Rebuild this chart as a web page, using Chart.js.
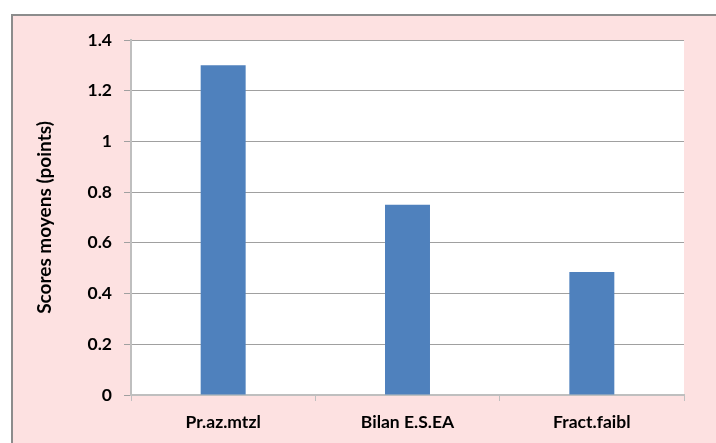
<!DOCTYPE html>
<html>
<head>
<meta charset="utf-8">
<script src="https://cdn.jsdelivr.net/npm/chart.js@4/dist/chart.umd.min.js"></script>
<style>
  html, body { margin: 0; padding: 0; background: #ffffff; }
  #wrap { position: relative; width: 716px; height: 443px; }
</style>
</head>
<body>
<div id="wrap"><canvas id="c" width="716" height="443"></canvas></div>
<script>
// Mean scores per category
const categories = ['Pr.az.mtzl', 'Bilan E.S.EA', 'Fract.faibl'];
const meanScores = [1.30, 0.75, 0.485];
const yTickValues = [0, 0.2, 0.4, 0.6, 0.8, 1, 1.2, 1.4];
const yTickLabels = ['0', '0.2', '0.4', '0.6', '0.8', '1', '1.2', '1.4'];
const yAxisTitle = 'Scores moyens (points)';

const FONT = 'Lato, "Open Sans", sans-serif';

// Pink chart frame with a grey outline, white plot area
const framePlugin = {
  id: 'frame',
  beforeDraw(chart) {
    const ctx = chart.ctx;
    const a = chart.chartArea;
    ctx.save();
    ctx.fillStyle = '#ffffff';
    ctx.fillRect(0, 0, chart.width, chart.height);
    ctx.fillStyle = '#fde1e1';
    ctx.fillRect(11, 14, chart.width, chart.height);
    ctx.strokeStyle = '#8c8c8c';
    ctx.lineWidth = 2;
    ctx.beginPath();
    ctx.moveTo(12, chart.height + 2);
    ctx.lineTo(12, 15);
    ctx.lineTo(chart.width + 2, 15);
    ctx.stroke();
    ctx.fillStyle = '#ffffff';
    ctx.fillRect(a.left, a.top, a.right - a.left, a.bottom - a.top);
    ctx.restore();
  }
};

new Chart(document.getElementById('c'), {
  type: 'bar',
  data: {
    labels: categories,
    datasets: [{
      data: meanScores,
      backgroundColor: '#4f81bd',
      borderWidth: 0,
      barPercentage: 0.244,
      categoryPercentage: 1
    }]
  },
  options: {
    responsive: false,
    animation: false,
    devicePixelRatio: 1,
    layout: { padding: { top: 40, right: 32, left: 0, bottom: 0 } },
    plugins: {
      legend: { display: false },
      tooltip: { enabled: false }
    },
    scales: {
      x: {
        offset: true,
        grid: {
          display: true,
          offset: true,
          drawOnChartArea: false,
          drawTicks: true,
          tickLength: 6,
          color: '#bfbfbf',
          lineWidth: 1
        },
        border: { display: true, color: '#bfbfbf', width: 2 },
        ticks: {
          color: '#000000',
          padding: 11,
          font: { family: FONT, size: 17.5, weight: 'bold' }
        },
        afterFit(scale) { scale.height = 48; }
      },
      y: {
        min: 0,
        max: 1.4,
        afterBuildTicks(scale) {
          scale.ticks = yTickValues.map(v => ({ value: v }));
        },
        grid: {
          color: '#a0a0a0',
          lineWidth: 1,
          tickLength: 7,
          tickColor: '#a0a0a0'
        },
        border: { display: true, color: '#bfbfbf', width: 2 },
        ticks: {
          color: '#000000',
          padding: 12,
          font: { family: FONT, size: 17.5, weight: 'bold' },
          callback(value) {
            const i = yTickValues.findIndex(v => Math.abs(v - value) < 1e-9);
            return i >= 0 ? yTickLabels[i] : '';
          }
        },
        title: {
          display: true,
          text: yAxisTitle,
          color: '#000000',
          font: { family: FONT, size: 19, weight: 'bold' },
          padding: { top: 33, bottom: 0 }
        },
        afterFit(scale) { scale.width = 131; }
      }
    }
  },
  plugins: [framePlugin]
});
</script>
</body>
</html>
